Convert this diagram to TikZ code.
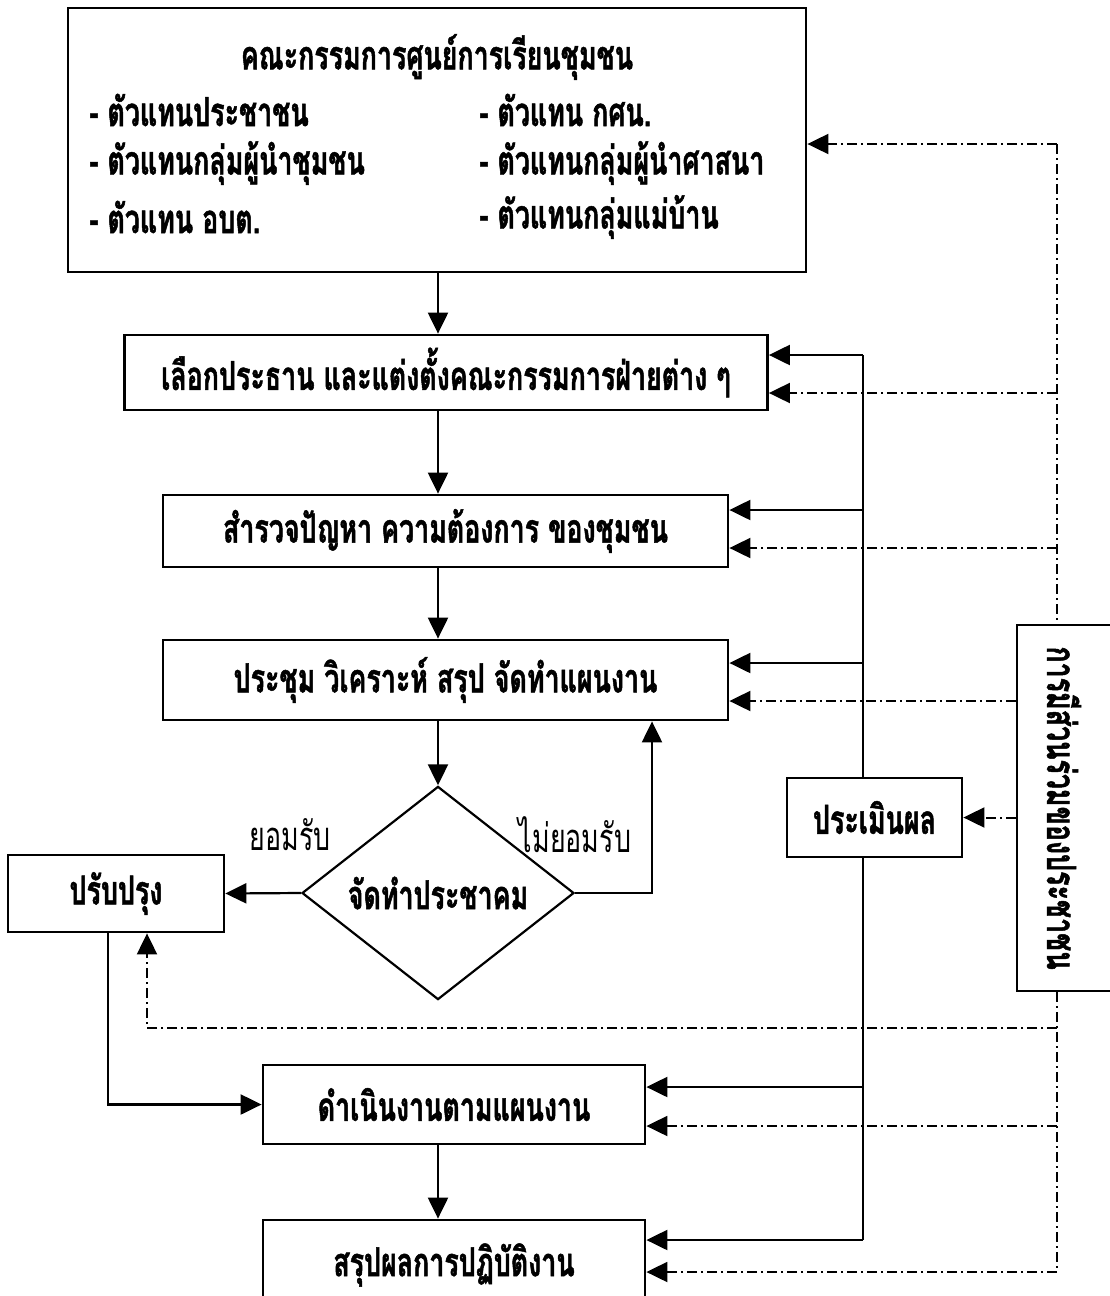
\documentclass[tikz,border=0pt]{standalone}
\usepackage{fontspec}
\newfontfamily\thaifont[Script=Thai, FakeStretch=0.67, BoldFeatures={FakeBold=1.2}]{Loma}
\usetikzlibrary{arrows.meta, shapes.geometric}

\begin{document}
\begin{tikzpicture}[x=1pt, y=-1pt,
        >={Triangle[length=21pt, width=20pt]},
        every node/.style={font=\thaifont\bfseries\fontsize{40}{46}\selectfont},
        stepbox/.style={rectangle, draw, line width=2.8pt, inner sep=0pt},
        choicenode/.style={diamond, draw, line width=2.2pt, inner sep=0pt, minimum width=272pt, minimum height=192pt},
        answer/.style={font=\thaifont\fontsize{40}{46}\selectfont},
        flowline/.style={line width=2.2pt},
        feedline/.style={line width=2pt, dash pattern=on 10pt off 4pt on 2pt off 4pt},
]
        \useasboundingbox (0,0) rectangle (1110,1296);
        \clip (0,0) rectangle (1110,1296);

        % committee box and its members
        \node[stepbox, minimum width=738pt, minimum height=264pt] (committee) at (437,140) {};
        \node (comtitle) at (437,57) {คณะกรรมการศูนย์การเรียนชุมชน};
        \node[anchor=west] (rep1) at (86,110) {- ตัวแทนประชาชน};
        \node[anchor=west] (rep2) at (86,163) {- ตัวแทนกลุ่มผู้นำชุมชน};
        \node[anchor=west] (rep3) at (86,217) {- ตัวแทน อบต.};
        \node[anchor=west] (rep4) at (476,110) {- ตัวแทน กศน.};
        \node[anchor=west] (rep5) at (476,163) {- ตัวแทนกลุ่มผู้นำศาสนา};
        \node[anchor=west] (rep6) at (476,217) {- ตัวแทนกลุ่มแม่บ้าน};

        % main steps
        \node[stepbox, minimum width=643pt, minimum height=75pt] (select) at (446,372.5) {เลือกประธาน และแต่งตั้งคณะกรรมการฝ่ายต่าง ๆ};
        \node[stepbox, minimum width=565pt, minimum height=72pt] (survey) at (445.5,531) {สำรวจปัญหา ความต้องการ ของชุมชน};
        \node[stepbox, minimum width=565pt, minimum height=80pt] (plan) at (445.5,680) {ประชุม วิเคราะห์ สรุป จัดทำแผนงาน};
        \node[choicenode] (vote) at (438,893) {จัดทำประชาคม};
        \node[stepbox, minimum width=216pt, minimum height=77pt] (improve) at (116,893.5) {ปรับปรุง};
        \node[stepbox, minimum width=382pt, minimum height=79pt] (exec) at (454,1104.5) {ดำเนินงานตามแผนงาน};
        \node[stepbox, minimum width=382pt, minimum height=90pt] (summary) at (454,1265) {สรุปผลการปฏิบัติงาน};

        % side boxes
        \node[stepbox, minimum width=175pt, minimum height=79pt] (evaluate) at (874.5,817.5) {ประเมินผล};
        \node[stepbox, minimum width=200pt, minimum height=366pt] (people) at (1117,808) {};
        \node[rotate=-90] (peopletext) at (1064,808) {การมีส่วนร่วมของประชาชน};

        \node[answer] (yes) at (290,835) {ยอมรับ};
        \node[answer] (no) at (575,835) {ไม่ยอมรับ};

        % bus lines and entry points
        \coordinate (spine) at (438,0);
        \coordinate (redo) at (652,0);
        \coordinate (fixdown) at (108,0);
        \coordinate (fixup) at (147,0);
        \coordinate (evalbus) at (863,0);
        \coordinate (partbus) at (1057,0);
        \coordinate (loopback) at (1057,1028);

        \coordinate (comfb) at ([yshift=-4pt]committee.east);
        \coordinate (selectev) at ([yshift=17.5pt]select.east);
        \coordinate (selectfb) at ([yshift=-20.5pt]select.east);
        \coordinate (surveyev) at ([yshift=21pt]survey.east);
        \coordinate (surveyfb) at ([yshift=-17pt]survey.east);
        \coordinate (planev) at ([yshift=17pt]plan.east);
        \coordinate (planfb) at ([yshift=-21pt]plan.east);
        \coordinate (execev) at ([yshift=17.5pt]exec.east);
        \coordinate (execfb) at ([yshift=-21.5pt]exec.east);
        \coordinate (summaryev) at ([yshift=25pt]summary.east);
        \coordinate (summaryfb) at ([yshift=-7pt]summary.east);

        % main flow
        \draw[flowline, ->] (committee.south -| spine) -- (select.north -| spine);
        \draw[flowline, ->] (select.south -| spine) -- (survey.north -| spine);
        \draw[flowline, ->] (survey.south -| spine) -- (plan.north -| spine);
        \draw[flowline, ->] (plan.south -| spine) -- (vote.north);
        \draw[flowline, ->] (vote.west) -- (improve.east);
        \draw[flowline, ->] (vote.east) -| (redo |- plan.south);
        \draw[flowline, ->] (improve.south -| fixdown) |- (exec.west);
        \draw[flowline, ->] (exec.south -| spine) -- (summary.north -| spine);

        % evaluation feedback
        \draw[flowline] (selectev -| evalbus) -- (evaluate.north -| evalbus);
        \draw[flowline] (evaluate.south -| evalbus) -- (summaryev -| evalbus);
        \draw[flowline, ->] (selectev -| evalbus) -- (selectev);
        \draw[flowline, ->] (surveyev -| evalbus) -- (surveyev);
        \draw[flowline, ->] (planev -| evalbus) -- (planev);
        \draw[flowline, ->] (execev -| evalbus) -- (execev);
        \draw[flowline, ->] (summaryev -| evalbus) -- (summaryev);

        % participation feedback
        \draw[feedline] (comfb -| partbus) -- (people.north -| partbus);
        \draw[feedline] (people.south -| partbus) -- (summaryfb -| partbus);
        \draw[feedline, ->] (comfb -| partbus) -- (comfb);
        \draw[feedline, ->] (selectfb -| partbus) -- (selectfb);
        \draw[feedline, ->] (surveyfb -| partbus) -- (surveyfb);
        \draw[feedline, ->] (planfb -| people.west) -- (planfb);
        \draw[feedline, ->] (evaluate.east -| people.west) -- (evaluate.east);
        \draw[feedline, ->] (loopback) -| (improve.south -| fixup);
        \draw[feedline, ->] (execfb -| partbus) -- (execfb);
        \draw[feedline, ->] (summaryfb -| partbus) -- (summaryfb);
\end{tikzpicture}
\end{document}
